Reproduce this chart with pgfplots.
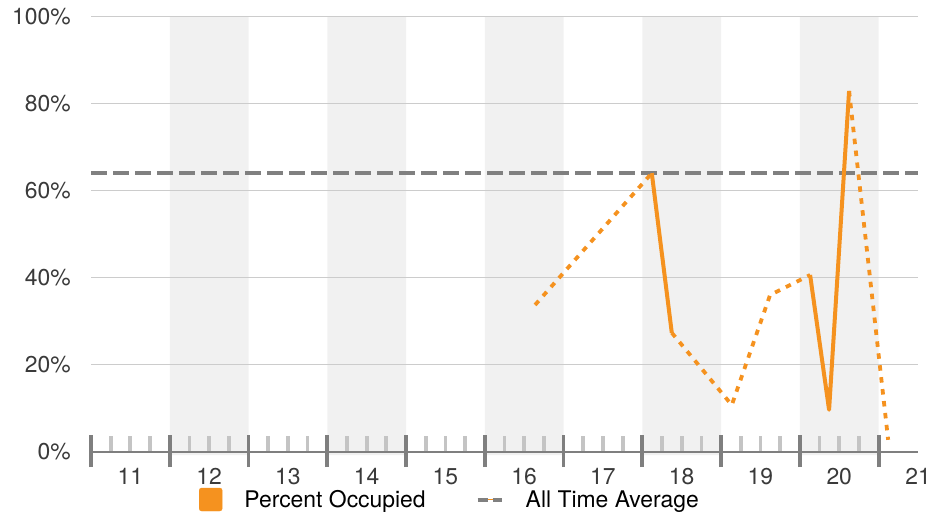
\documentclass[border=0pt]{standalone}
\usepackage{pgfplots}
\pgfplotsset{compat=1.18}
\usepackage{fontspec}
\setmainfont{TeX Gyre Heros}
\definecolor{occ}{HTML}{F5921F}
\definecolor{avg}{HTML}{808080}
\definecolor{axisgray}{HTML}{7F7F7F}
\definecolor{minorgray}{HTML}{C4C4C4}
\definecolor{band}{HTML}{F1F1F1}
\definecolor{gridgray}{HTML}{CCCCCC}
\definecolor{labelgray}{HTML}{3A3A3A}
\begin{document}
\begin{tikzpicture}
\begin{axis}[
  set layers,
  scale only axis, width=827bp, height=435bp,
  xmin=11, xmax=21.5, ymin=0, ymax=100,
  clip=false,
  axis x line*=bottom, axis y line*=left,
  y axis line style={draw=none},
  x axis line style={draw=axisgray, line width=2bp, -},
  xtick={11,...,21},
  xticklabels={11,12,13,14,15,16,17,18,19,20,21},
  xticklabel style={anchor=north, inner sep=0pt, yshift=-16bp, xshift=39.38bp, text=labelgray},
  xtick align=inside,
  major tick length=17bp,
  minor x tick num=3,
  minor tick length=16bp,
  xtick style={draw=axisgray, line width=3.8bp},
  minor x tick style={draw=minorgray, line width=3.8bp},
  extra x ticks={11,...,21},
  extra x tick labels={},
  extra x tick style={xtick align=outside, major tick length=15bp, xmajorgrids=false},
  ytick={0,20,...,100},
  yticklabels={0\%,20\%,40\%,60\%,80\%,100\%},
  ytick style={draw=none},
  yticklabel style={anchor=east, inner sep=0pt, xshift=-20bp, text=labelgray},
  ymajorgrids, grid style={draw=gridgray, line width=1bp},
  tick label style={font=\fontsize{23}{27}\selectfont},
  legend columns=2,
  legend cell align=left,
  legend style={at={(0.1306,-0.1092)}, anchor=west, draw=none, fill=none,
    inner sep=0pt, outer sep=0pt, font=\fontsize{23}{27}\selectfont,
    column sep=22bp, /tikz/every even column/.append style={column sep=50bp},
    nodes={inner sep=0pt}},
]
\addlegendimage{legend image code/.code={\fill[occ, rounded corners=2.5bp] (0bp,-11.5bp) rectangle (23bp,11.5bp);}}
\addlegendentry{Percent Occupied}
\addlegendimage{legend image code/.code={\draw[avg, line width=4bp] (0bp,0bp) -- (10bp,0bp); \draw[avg, line width=4bp] (15bp,0bp) -- (24bp,0bp); \draw[occ, line width=0.7bp] (10bp,0bp) -- (15bp,0bp);}}
\addlegendentry{All Time Average}

% background day bands
\addplot[forget plot, on layer=axis background, fill=band, draw=none] coordinates {(12,-0.7) (12,100) (13,100) (13,-0.7) (12,-0.7)};
\addplot[forget plot, on layer=axis background, fill=band, draw=none] coordinates {(14,-0.7) (14,100) (15,100) (15,-0.7) (14,-0.7)};
\addplot[forget plot, on layer=axis background, fill=band, draw=none] coordinates {(16,-0.7) (16,100) (17,100) (17,-0.7) (16,-0.7)};
\addplot[forget plot, on layer=axis background, fill=band, draw=none] coordinates {(18,-0.7) (18,100) (19,100) (19,-0.7) (18,-0.7)};
\addplot[forget plot, on layer=axis background, fill=band, draw=none] coordinates {(20,-0.7) (20,100) (21,100) (21,-0.7) (20,-0.7)};

% all time average
\addplot[forget plot, avg, line width=4bp, dash pattern=on 15.5bp off 6.5bp] coordinates {(11,64.1) (21.5,64.1)};

% percent occupied
\addplot[forget plot, occ, line width=3.8bp, dash pattern=on 5.5bp off 6.5bp] coordinates {(16.638,33.8) (18.120,64.1)};
\addplot[forget plot, occ, line width=4bp, line join=round] coordinates {(18.120,64.1) (18.374,27.4)};
\addplot[forget plot, occ, line width=3.8bp, dash pattern=on 5.5bp off 6.5bp] coordinates {(18.374,27.4) (19.136,10.8) (19.622,36.1) (20.130,40.7)};
\addplot[forget plot, occ, line width=4bp, line join=round] coordinates {(20.130,40.7) (20.371,9.7) (20.625,83.0)};
\addplot[forget plot, occ, line width=3.8bp, dash pattern=on 5.5bp off 6.5bp] coordinates {(20.625,83.0) (21.121,2.8)};
\end{axis}
\pgfresetboundingbox
\path[use as bounding box] (-91bp,-64bp) rectangle (841bp,452bp);
\end{tikzpicture}
\end{document}
